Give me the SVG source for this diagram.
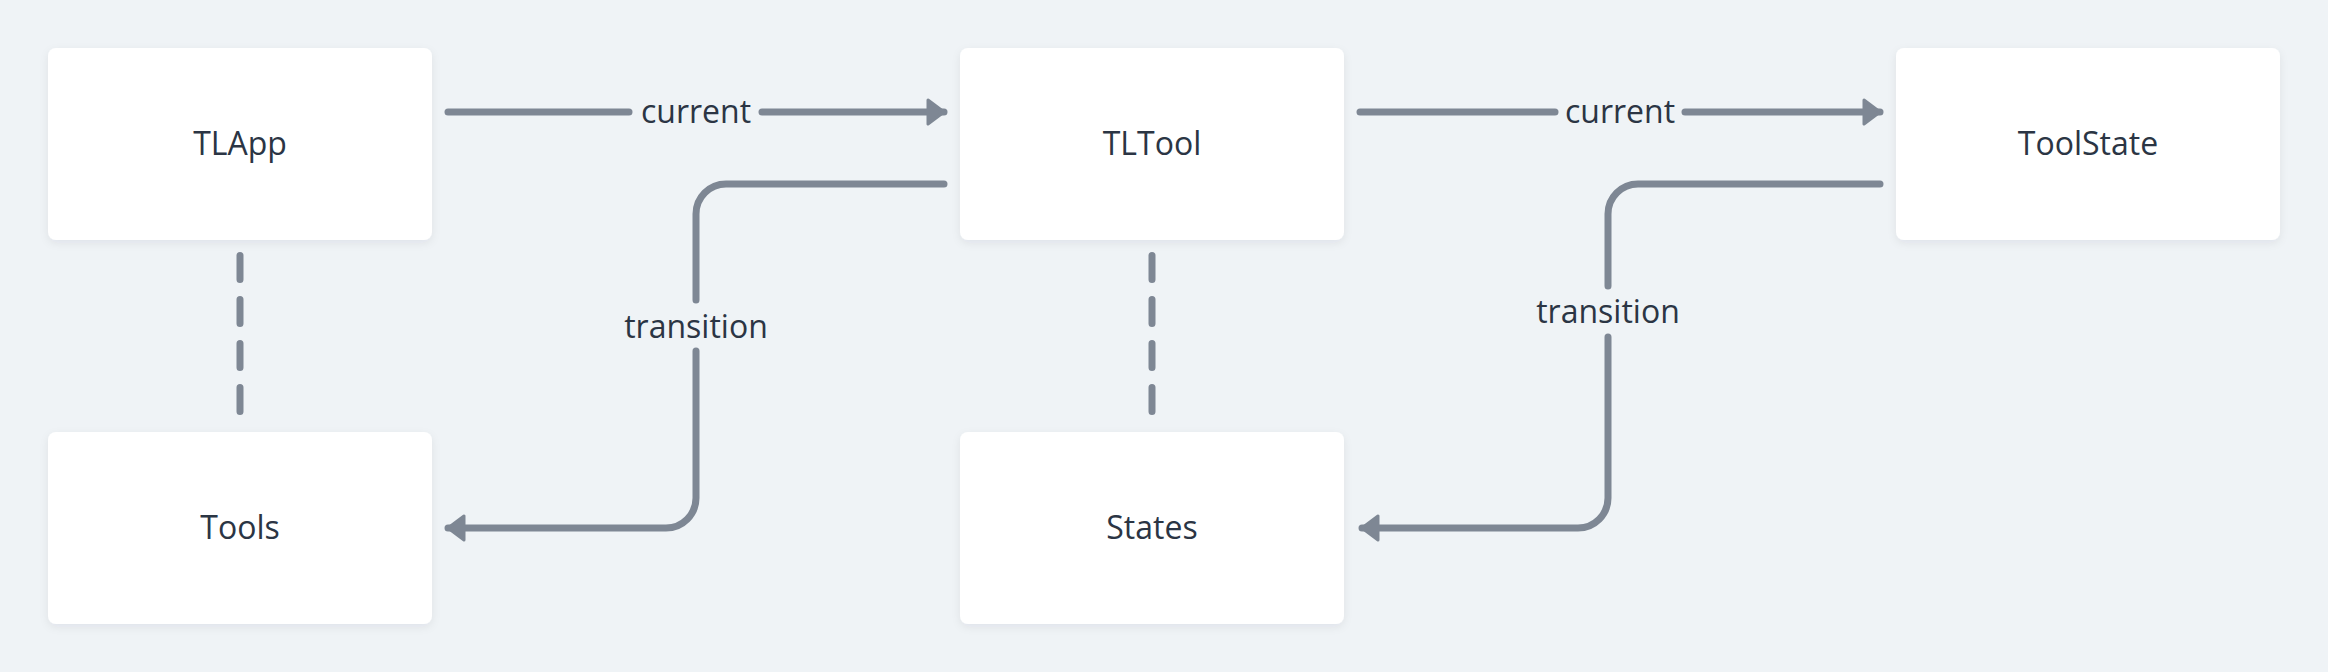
<svg xmlns="http://www.w3.org/2000/svg" width="2328" height="672" viewBox="0 0 2328 672">
<defs>
<filter id="sh" x="-10%" y="-10%" width="120%" height="130%">
<feDropShadow dx="0" dy="3" stdDeviation="4" flood-color="#1a2533" flood-opacity="0.07"/>
</filter>
<marker id="ah" viewBox="0 0 20 28" refX="18" refY="14" markerWidth="20" markerHeight="28" markerUnits="userSpaceOnUse" orient="auto">
<path d="M2 2 L18 14 L2 26 Z" fill="#7e8794" stroke="#7e8794" stroke-width="3" stroke-linejoin="round"/>
</marker>
</defs>
<style>
.box{fill:#ffffff;filter:url(#sh)}
.nt{font-family:"Open Sans","Liberation Sans",sans-serif;font-size:32px;font-weight:500;fill:#2b3544;text-anchor:middle}
.ln{fill:none;stroke:#7e8794;stroke-width:7;stroke-linecap:round;stroke-linejoin:round}
.dash{stroke-dasharray:24 20}
.lt{font-family:"Open Sans","Liberation Sans",sans-serif;font-size:32px;font-weight:500;fill:#2b3544;text-anchor:middle}
</style>
<rect width="2328" height="672" fill="#eff3f6"/>
<g id="connectors">
<path class="ln" d="M448 112 H629"/>
<path class="ln" d="M762 112 H944" marker-end="url(#ah)"/>
<text class="lt" x="696" y="123">current</text>
<path class="ln" d="M1360 112 H1555"/>
<path class="ln" d="M1685 112 H1880" marker-end="url(#ah)"/>
<text class="lt" x="1620" y="123">current</text>
<path class="ln" d="M944 184 H726 A30 30 0 0 0 696 214 V300"/>
<path class="ln" d="M696 351 V498 A30 30 0 0 1 666 528 H448" marker-end="url(#ah)"/>
<text class="lt" x="696" y="338">transition</text>
<path class="ln" d="M1880 184 H1638 A30 30 0 0 0 1608 214 V286"/>
<path class="ln" d="M1608 337 V498 A30 30 0 0 1 1578 528 H1362" marker-end="url(#ah)"/>
<text class="lt" x="1608" y="323">transition</text>
<path class="ln dash" d="M240 255.5 V412"/>
<path class="ln dash" d="M1152 255.5 V412"/>
</g>
<g id="TLApp"><rect class="box" x="48" y="48" width="384" height="192" rx="8"/><text class="nt" x="240" y="155">TLApp</text></g>
<g id="TLTool"><rect class="box" x="960" y="48" width="384" height="192" rx="8"/><text class="nt" x="1152" y="155">TLTool</text></g>
<g id="ToolState"><rect class="box" x="1896" y="48" width="384" height="192" rx="8"/><text class="nt" x="2088" y="155">ToolState</text></g>
<g id="Tools"><rect class="box" x="48" y="432" width="384" height="192" rx="8"/><text class="nt" x="240" y="539">Tools</text></g>
<g id="States"><rect class="box" x="960" y="432" width="384" height="192" rx="8"/><text class="nt" x="1152" y="539">States</text></g>
</svg>
